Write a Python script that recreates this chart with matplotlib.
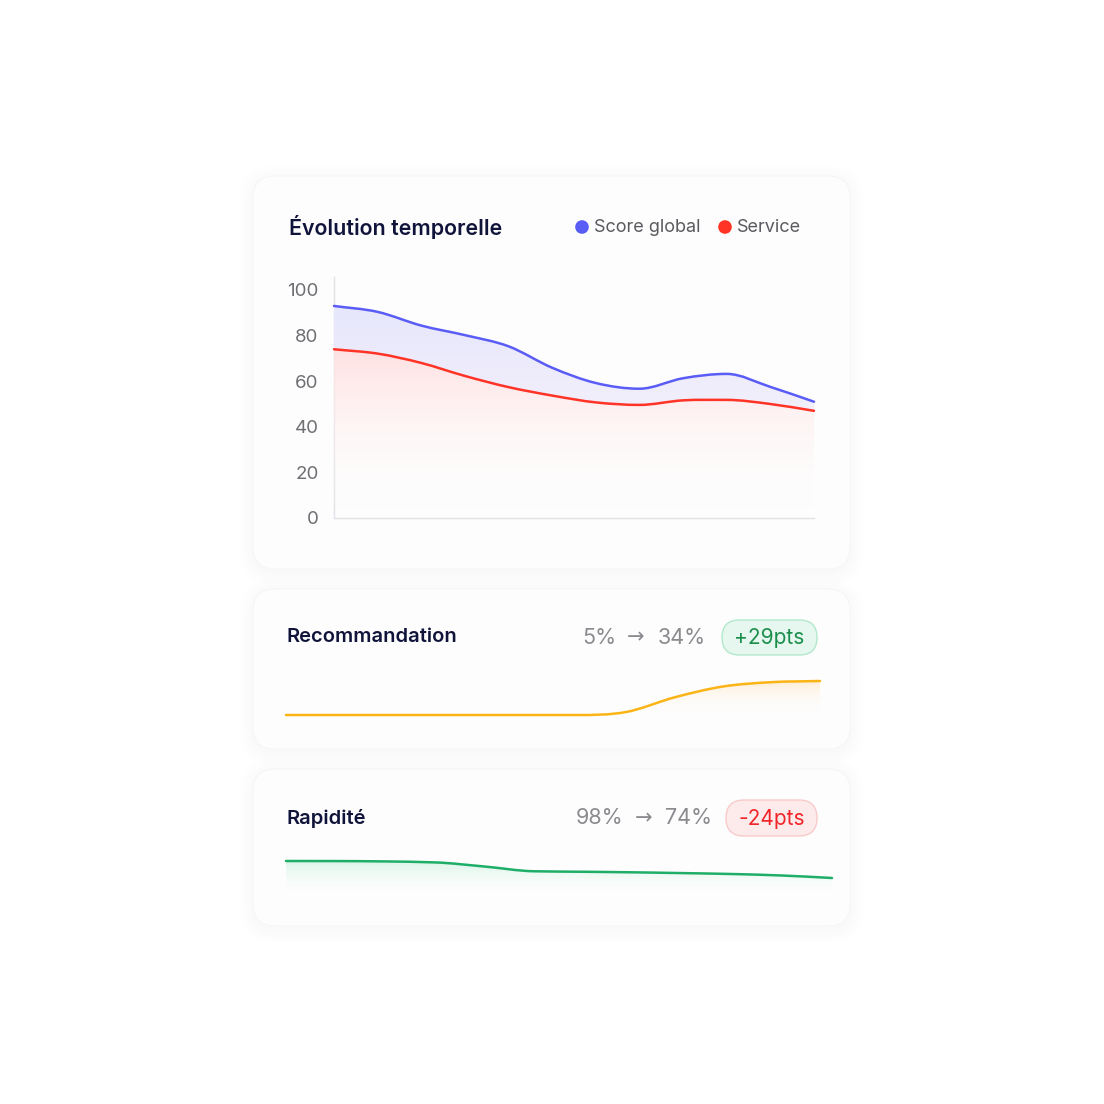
import numpy as np
import matplotlib
matplotlib.use("Agg")
import matplotlib.pyplot as plt
from matplotlib.path import Path
from matplotlib.patches import FancyBboxPatch, PathPatch, Circle
from matplotlib.colors import LinearSegmentedColormap

plt.rcParams['font.family'] = ['Inter', 'DejaVu Sans']

# ---- data ----
months = np.arange(12)
score_global = [93.0, 90.4, 84.4, 80.2, 75.3, 65.9, 59.2, 56.7, 61.3, 63.2, 57.5, 51.0]
service = [74.0, 72.1, 68.0, 62.3, 57.4, 53.7, 50.7, 49.6, 51.6, 51.8, 50.0, 47.0]
y_ticks = [0, 20, 40, 60, 80, 100]

reco_values = [5, 5, 5, 5, 5, 5, 5, 7.5, 20.0, 29.3, 33.0, 34]
rapid_values = [98, 97.9, 97.4, 96.0, 90.2, 83.5, 82.8, 82.0, 80.9, 79.6, 77.5, 74]

title_main = "Évolution temporelle"
legend_labels = ["Score global", "Service"]
cards = [
    ("Recommandation", "5%", "34%", "+29pts"),
    ("Rapidité", "98%", "74%", "-24pts"),
]

BLUE = "#5a5cf6"
RED = "#ff3326"
YELLOW = "#fbb416"
GREEN = "#1fae68"
NAVY = "#11143a"
GRAY = "#8a8a8f"

W = H = 1104
fig = plt.figure(figsize=(W / 100, H / 100), dpi=100)
fig.patch.set_facecolor("white")

# background axes in pixel coordinates
bg = fig.add_axes([0, 0, 1, 1], zorder=0)
bg.set_xlim(0, W)
bg.set_ylim(H, 0)
bg.axis("off")


def px_axes(x0, y0, x1, y1, z=2):
    return fig.add_axes([x0 / W, 1 - y1 / H, (x1 - x0) / W, (y1 - y0) / H], zorder=z)


def card(x0, y0, x1, y1):
    for i in range(6):
        g = 1 + i * 2.5
        bg.add_patch(FancyBboxPatch((x0 - g, y0 - g + 3), x1 - x0 + 2 * g, y1 - y0 + 2 * g,
                                    boxstyle="round,pad=0,rounding_size=%d" % (22 + g),
                                    fc="#000000", ec="none", alpha=0.0025))
    bg.add_patch(FancyBboxPatch((x0, y0), x1 - x0, y1 - y0,
                                boxstyle="round,pad=0,rounding_size=22",
                                fc="#fdfdfd", ec="#f6f6f7", lw=0.8))


card(253, 176, 850, 569)
card(253, 589, 850, 749)
card(253, 769, 850, 926)


def tangents(x, y, monotone):
    h = np.diff(x)
    d = np.diff(y) / h
    m = np.zeros_like(y)
    m[0], m[-1] = d[0], d[-1]
    for k in range(1, len(y) - 1):
        if d[k - 1] * d[k] <= 0:
            m[k] = 0
        elif not monotone:
            m[k] = (y[k + 1] - y[k - 1]) / (x[k + 1] - x[k - 1])
        else:
            w1 = 2 * h[k] + h[k - 1]
            w2 = h[k] + 2 * h[k - 1]
            m[k] = (w1 + w2) / (w1 / d[k - 1] + w2 / d[k])
    return h, m


def smooth_xy(x, y, monotone=True):
    # cubic hermite -> bezier vertices
    x = np.asarray(x, float)
    y = np.asarray(y, float)
    h, m = tangents(x, y, monotone)
    verts = [(x[0], y[0])]
    codes = [Path.MOVETO]
    for i in range(len(x) - 1):
        verts += [(x[i] + h[i] / 3, y[i] + m[i] * h[i] / 3),
                  (x[i + 1] - h[i] / 3, y[i + 1] - m[i + 1] * h[i] / 3),
                  (x[i + 1], y[i + 1])]
        codes += [Path.CURVE4] * 3
    return verts, codes


def draw_line(ax, x, y, color, lw=1.8, monotone=True):
    v, c = smooth_xy(x, y, monotone)
    ax.add_patch(PathPatch(Path(v, c), fc="none", ec=color, lw=lw,
                           capstyle="round", zorder=5, clip_on=False))


def area_path(x, y, base=None, y2=None, monotone=True):
    v, c = smooth_xy(x, y, monotone)
    if y2 is not None:
        v2, c2 = smooth_xy(x[::-1], y2[::-1], monotone)
        v = v + [v2[0]] + v2[1:]
        c = c + [Path.LINETO] + c2[1:]
    else:
        v = v + [(x[-1], base), (x[0], base)]
        c = c + [Path.LINETO, Path.LINETO]
    v = v + [v[0]]
    c = c + [Path.CLOSEPOLY]
    return Path(v, c)


def gradient_fill(ax, path, top, bottom, c_top, c_bottom, x0, x1, z=3):
    cmap = LinearSegmentedColormap.from_list("g", [c_bottom, c_top])
    grad = np.linspace(0, 1, 256).reshape(-1, 1)
    im = ax.imshow(grad, cmap=cmap, aspect="auto", origin="lower",
                   extent=[x0, x1, bottom, top], zorder=z, interpolation="bicubic")
    patch = PathPatch(path, fc="none", ec="none", transform=ax.transData)
    ax.add_patch(patch)
    im.set_clip_path(patch)


# ---- main chart ----
ax = px_axes(334, 277, 814, 518)
ax.patch.set_alpha(0)
ax.set_xlim(months[0], months[-1])
ax.set_ylim(0, 100 * (518 - 277) / (518 - 290))
gradient_fill(ax, area_path(months, score_global, y2=service, monotone=False),
              95, 45, "#e6e6fc", "#f3f0fb", 0, 11)
gradient_fill(ax, area_path(months, service, base=0, monotone=False), 76, 0,
              (1.0, 0.875, 0.88, 1.0), (1.0, 1.0, 1.0, 0.0), 0, 11)
draw_line(ax, months, score_global, BLUE, monotone=False)
draw_line(ax, months, service, RED, monotone=False)
ax.set_yticks(y_ticks)
ax.set_yticklabels([str(t) for t in y_ticks], fontsize=13.5, color="#6e6e73")
ax.set_xticks([])
ax.tick_params(axis="y", length=0, pad=11)
for s in ["top", "right"]:
    ax.spines[s].set_visible(False)
for s in ["left", "bottom"]:
    ax.spines[s].set_color("#e2e2e8")
    ax.spines[s].set_linewidth(1.0)
ax.set_xlim(months[0], months[-1])

bg.text(289, 227, title_main, fontsize=15.4, fontweight="semibold", color=NAVY,
        ha="left", va="center")
for cx, col, lab in [(582, BLUE, legend_labels[0]), (725, RED, legend_labels[1])]:
    bg.add_patch(Circle((cx, 227), 6.8, fc=col, ec="none"))
    bg.text(cx + 12, 227.5, lab, fontsize=13, color="#5a5a60", ha="left", va="center")

# ---- sparkline cards ----
specs = [
    dict(y=637, x_a=582, x_arr=636, x_b=658, bx=(722, 817), by=(620, 655),
         bfc="#e5f7ee", bec="#b3e8cd", btc="#1c8f4d"),
    dict(y=818, x_a=576, x_arr=644, x_b=665, bx=(726, 817), by=(800, 836),
         bfc="#fdebec", bec="#f9caca", btc="#f0262b"),
]
for (label, a, b, delta), s in zip(cards, specs):
    bg.text(286, s["y"], label, fontsize=14.5, fontweight="semibold", color=NAVY,
            ha="left", va="center")
    bg.text(s["x_a"], s["y"] + 0.5, a, fontsize=15.5, color=GRAY, ha="left", va="center")
    bg.text(s["x_arr"], s["y"], "→", fontsize=15, color=GRAY, ha="center", va="center",
            family=["DejaVu Sans"])
    bg.text(s["x_b"], s["y"] + 0.5, b, fontsize=15.5, color=GRAY, ha="left", va="center")
    bx0, bx1 = s["bx"]
    by0, by1 = s["by"]
    r = (by1 - by0) / 2
    bg.add_patch(FancyBboxPatch((bx0, by0), bx1 - bx0, by1 - by0,
                                boxstyle="round,pad=0,rounding_size=%.1f" % r,
                                fc=s["bfc"], ec=s["bec"], lw=1.0))
    bg.text((bx0 + bx1) / 2, (by0 + by1) / 2 + 1, delta, fontsize=15, color=s["btc"],
            ha="center", va="center")

# recommandation sparkline
ppu = (715 - 681) / (34 - 5)
ax2 = px_axes(286, 678, 820, 716)
ax2.axis("off")
ax2.set_xlim(0, 11)
ax2.set_ylim(5 - 1 / ppu, 34 + 3 / ppu)
gradient_fill(ax2, area_path(months, reco_values, base=5 - 1 / ppu, monotone=False), 34, 8,
              (1.0, 0.93, 0.84, 1.0), (1.0, 0.99, 0.97, 0.0), 0, 11)
draw_line(ax2, months, reco_values, YELLOW, lw=1.8, monotone=False)

# rapidite sparkline
ppu = (878 - 861) / (98 - 74)
ax3 = px_axes(286, 858, 832, 894)
ax3.axis("off")
ax3.set_xlim(0, 11)
ax3.set_ylim(98 - 36 / ppu + 3 / ppu, 98 + 3 / ppu)
bottom3 = 98 - 33 / ppu
gradient_fill(ax3, area_path(months, rapid_values, base=bottom3), 98, bottom3 + 2,
              (0.86, 0.96, 0.91, 1.0), (0.97, 0.995, 0.98, 0.0), 0, 11)
draw_line(ax3, months, rapid_values, GREEN, lw=1.8)

fig.savefig("out.png", dpi=100, facecolor="white")
